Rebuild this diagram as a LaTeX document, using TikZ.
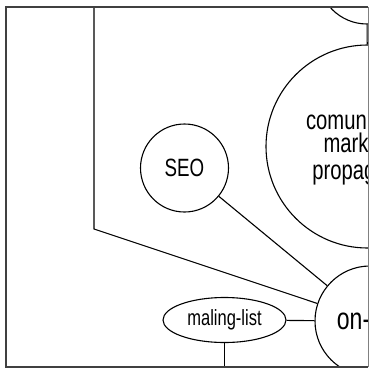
\documentclass[tikz,border=0pt]{standalone}
\usepackage{fontspec}
\setmainfont[FakeStretch=0.75]{Liberation Sans}
\usepackage{tikz}
\usetikzlibrary{positioning,shapes.geometric}

\tikzset{
  bubble/.style={draw,circle,inner sep=0pt,line width=1.1pt,align=center},
  link/.style={line width=1.1pt},
  edgeline/.style={line width=1.5pt,black!75}
}

\begin{document}
\begin{tikzpicture}[x=1pt,y=-1pt]
      \useasboundingbox (0,0) rectangle (369,370);
      \begin{scope}
      \clip (6,7) rectangle (368,367);
      % Bubbles
      \node[bubble,minimum size=98pt] (net) at (367,-25) {};
      \node[bubble,minimum size=203pt,
            label={[align=center,xshift=0.5pt,yshift=-1pt,font=\fontsize{27}{23}\selectfont]center:comunicación\\marketing\\propagación}]
            (comm) at (367.5,146.5) {};
      \node[bubble,minimum size=88pt,font=\fontsize{25}{25}\selectfont] (seo) at (184.5,168) {SEO};
      \node[bubble,minimum size=110pt,
            label={[xshift=1.5pt,yshift=2.5pt,font=\fontsize{30.7}{30.7}\selectfont]center:on-line}]
            (online) at (370,321) {};
      \node[draw,ellipse,inner sep=0pt,minimum width=123pt,minimum height=45pt,line width=1.1pt,
            font=\fontsize{22}{22}\selectfont] (mlist) at (224.5,320) {maling-list};
      \coordinate (mbase) at (224.5,367);
      \coordinate (corner) at (94,229);
      % Connectors
      \draw[link] (net) -- (comm);
      \draw[link] (comm) -- (online);
      \draw[link] (seo) -- (online);
      \draw[link] (mlist) -- (online);
      \draw[link] (mlist) -- (mbase);
      \draw[link] (94,7) -- (corner) -- (online);
      \end{scope}
      % Frame
      \draw[edgeline] (368,7) -- (6,7) -- (6,367) -- (368,367);
      \draw[line width=0.8pt,black!50] (368,7) -- (368,367);
    \end{tikzpicture}
\end{document}
